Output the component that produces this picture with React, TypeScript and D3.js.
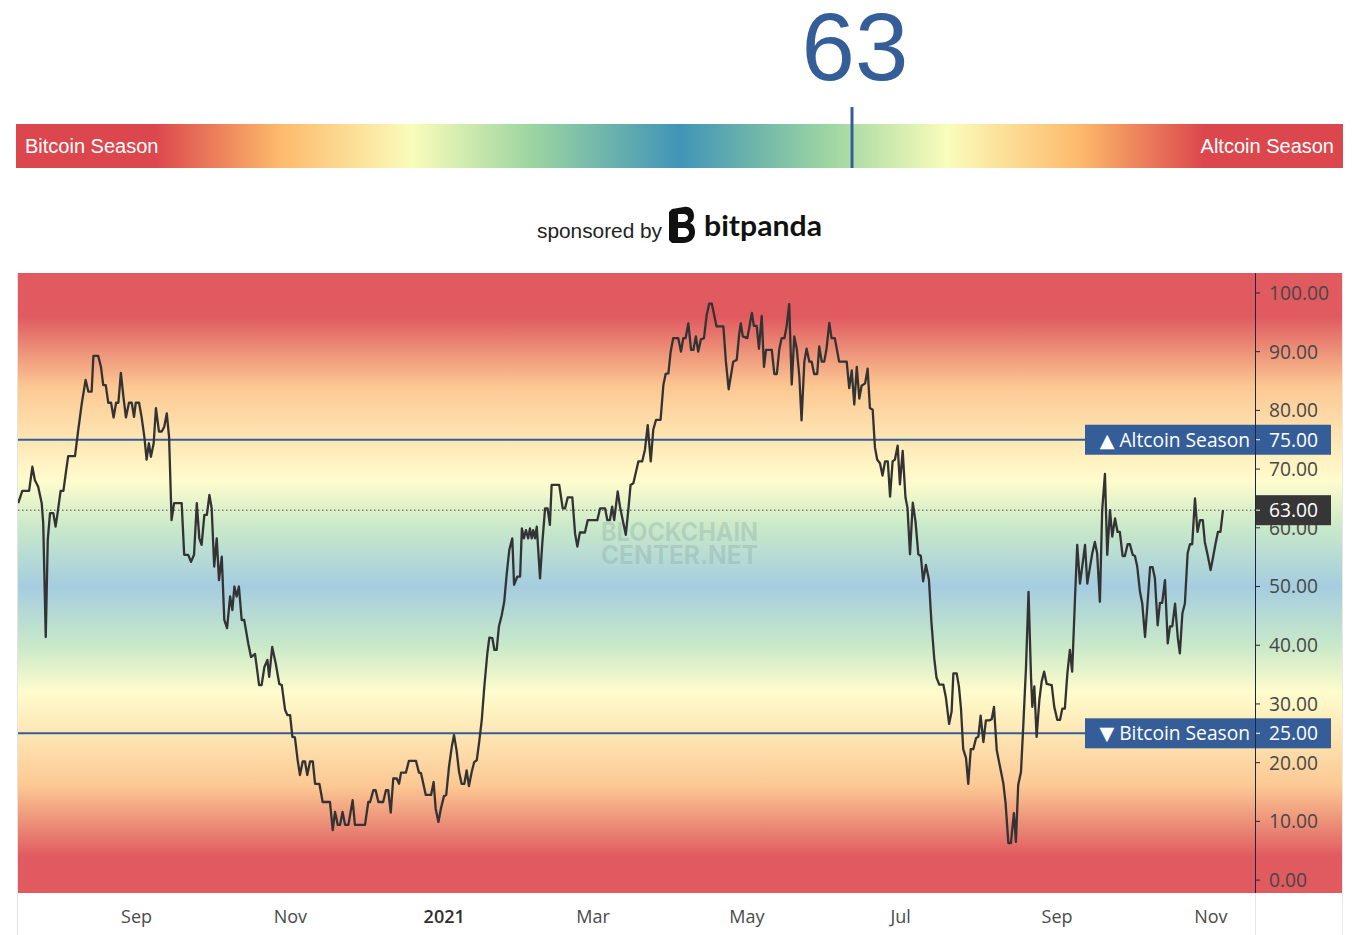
import React from "react";
import * as d3 from "d3";

// ---------- data ----------
const START_DATE = "2020-07-16";
const END_DATE = "2021-11-18T12:00";
const CURRENT_VALUE = 63;
const ALTCOIN_THRESHOLD = 75;
const BITCOIN_THRESHOLD = 25;

const yTickValues = [0, 10, 20, 30, 40, 50, 60, 70, 80, 90, 100];
const xTickDates = ["2020-09-01", "2020-11-01", "2021-01-01", "2021-03-01", "2021-05-01", "2021-07-01", "2021-09-01", "2021-11-01"];
const xTickLabels = ["Sep", "Nov", "2021", "Mar", "May", "Jul", "Sep", "Nov"];

// days after START_DATE
const dayOffsets = [
  0.1, 1.7, 4.4, 5.7, 6.7, 8.0, 9.4, 10.0, 11.0, 11.8, 12.7, 14.0, 14.9, 15.7, 16.9, 18.0, 19.3, 19.9, 22.6, 23.9,
  25.3, 26.8, 27.9, 29.2, 29.9, 31.8, 32.9, 33.8, 34.8, 35.8, 36.9, 37.9, 38.9, 39.8, 40.8, 41.8, 42.8, 44.0, 45.1, 46.0,
  46.7, 48.0, 49.0, 50.1, 51.0, 51.9, 52.7, 53.8, 54.7, 55.9, 57.0, 58.0, 59.0, 59.9, 60.9, 61.9, 64.9, 65.9, 67.5, 68.6,
  69.8, 70.9, 71.9, 72.8, 73.9, 74.9, 75.9, 76.8, 77.8, 78.8, 79.7, 80.8, 81.8, 82.9, 84.1, 85.0, 85.8, 86.7, 87.6, 88.7,
  89.7, 91.3, 92.4, 94.0, 95.6, 96.6, 97.7, 98.9, 99.6, 100.8, 102.2, 103.6, 104.6, 105.9, 106.8, 107.9, 108.8, 109.8, 110.9, 111.8,
  112.9, 113.8, 114.7, 115.8, 116.9, 117.8, 119.5, 120.8, 123.7, 124.8, 125.7, 126.8, 127.7, 128.7, 129.7, 131.0, 132.7, 133.6, 137.6, 138.9,
  139.6, 140.9, 141.8, 142.9, 144.8, 145.9, 146.8, 147.8, 148.8, 150.2, 151.1, 151.9, 153.8, 155.0, 157.8, 159.0, 159.8, 161.7, 163.8, 164.8,
  165.6, 166.7, 167.7, 168.9, 169.8, 170.9, 172.0, 172.9, 173.9, 174.9, 175.9, 177.0, 177.9, 178.8, 179.9, 180.9, 181.9, 182.8, 183.9, 184.9,
  186.1, 186.9, 188.1, 188.9, 189.8, 190.7, 191.8, 192.8, 193.8, 194.8, 196.0, 196.7, 198.0, 199.1, 199.8, 200.6, 201.4, 202.3, 203.0, 203.7,
  204.3, 205.0, 205.7, 207.0, 207.9, 209.0, 210.0, 210.9, 211.6, 214.6, 216.0, 216.9, 218.0, 219.8, 220.9, 221.8, 222.8, 224.8, 225.9, 229.7,
  230.8, 232.8, 233.7, 234.7, 235.6, 236.4, 237.8, 238.7, 239.8, 241.0, 242.0, 242.9, 244.0, 246.0, 247.5, 248.6, 249.7, 250.9, 251.9, 253.0,
  254.8, 255.9, 256.8, 257.9, 258.8, 259.8, 261.8, 262.9, 263.8, 264.7, 265.8, 266.9, 267.8, 268.8, 269.7, 270.8, 272.0, 273.1, 274.1, 275.1,
  277.0, 279.7, 280.7, 281.8, 283.6, 285.0, 286.0, 286.6, 287.4, 289.2, 291.0, 291.8, 292.9, 293.8, 294.9, 295.8, 296.6, 298.9, 299.9, 300.9,
  301.9, 302.8, 303.9, 304.8, 305.8, 306.8, 307.8, 308.8, 309.8, 310.7, 311.8, 312.7, 313.8, 314.7, 315.7, 316.9, 317.7, 318.7, 319.7, 320.6,
  321.7, 322.6, 323.9, 325.6, 328.6, 329.6, 330.6, 331.6, 332.6, 333.6, 334.5, 335.9, 336.9, 337.8, 338.9, 339.8, 340.7, 341.8, 342.8, 343.8,
  344.9, 345.8, 346.8, 347.7, 348.8, 349.7, 350.8, 351.9, 352.7, 353.7, 354.8, 355.9, 357.0, 358.0, 358.9, 360.0, 361.2, 362.2, 363.3, 364.2,
  365.3, 366.9, 367.9, 369.2, 370.2, 370.9, 372.2, 373.1, 373.9, 374.8, 375.9, 376.8, 377.8, 378.8, 379.9, 380.8, 381.7, 382.8, 383.8, 385.1,
  386.1, 387.0, 388.1, 389.4, 390.7, 391.6, 392.7, 393.7, 394.9, 395.7, 396.6, 397.7, 398.6, 399.7, 400.7, 401.7, 402.2, 403.0, 403.9, 405.0,
  405.9, 406.9, 407.9, 409.9, 410.9, 412.1, 413.2, 414.1, 415.1, 416.1, 417.1, 418.0, 419.1, 420.0, 421.1, 422.0, 423.1, 424.0, 425.1, 426.0,
  427.0, 427.9, 429.0, 429.9, 431.0, 431.9, 433.0, 433.9, 435.0, 436.0, 436.9, 438.0, 438.9, 440.0, 440.9, 442.0, 442.9, 443.8, 444.9, 445.8,
  446.9, 447.8, 448.9, 449.9, 450.8, 451.9, 452.8, 453.7, 454.8, 455.9, 456.8, 457.7, 458.8, 459.9, 460.7, 461.7, 462.7, 463.8, 464.7, 465.6,
  466.7, 467.7, 468.7, 469.8, 470.6, 471.7, 472.9, 473.8, 474.9, 475.8, 476.8, 477.8,
];

const indexValues = [
  64.2, 66.3, 66.3, 70.4, 68.1, 67, 64.2, 60.8, 41.4, 57.9, 62.5, 62.5, 60.2, 62.5, 66.3, 66.3, 70.4, 72.2, 72.2, 76.7,
  81.2, 85.2, 83.2, 83.2, 89.3, 89.3, 87.4, 84.3, 84.3, 81.3, 81.3, 78.8, 81.3, 81.3, 86.4, 82.3, 78.8, 81.3, 81.3, 78.9,
  81.3, 81.3, 78.9, 75.5, 71.6, 74.4, 72.1, 74.4, 80.4, 76.4, 76.4, 77.2, 79.5, 75.5, 61.3, 64.2, 64.2, 55.4, 55.4, 54.2,
  55.4, 64.2, 58.2, 57.1, 62.2, 62.2, 65.6, 63.3, 53.4, 58.2, 51.1, 55.1, 44.3, 42.9, 48.3, 46, 50, 48.3, 50, 44.3,
  44.3, 40.3, 38, 38.5, 33.2, 33.2, 36.3, 37.5, 34.6, 39.7, 36.9, 33.4, 33.2, 29, 28.1, 28.1, 24.4, 24.3, 20.4, 17.9,
  20.2, 20.2, 17.9, 20.2, 20.2, 16.4, 16.4, 13.3, 13.3, 8.5, 11.6, 9.4, 9.4, 11.6, 9.4, 9.4, 13.6, 9.4, 9.4, 13.3,
  13.3, 15.3, 15.3, 13.3, 13.3, 15.3, 15.3, 11.5, 17.3, 17.3, 16.4, 18.3, 18.3, 20.3, 20.3, 18.3, 18.2, 14.5, 14.5, 16.7,
  12.2, 9.9, 12.2, 14.3, 14.5, 19.3, 22.7, 24.7, 22.1, 18.4, 16.4, 16.4, 18.7, 16, 18.4, 20.1, 20.4, 23.3, 27.3, 32.9,
  38.6, 41.3, 41.2, 39.2, 39.2, 43.2, 45.1, 47.4, 52.2, 56.2, 58.2, 50.3, 51.7, 51.7, 59.9, 58.2, 59.6, 58.2, 59.9, 58.2,
  59.6, 58.2, 60.2, 51.4, 57.4, 63.3, 63.3, 60.5, 67.3, 67.3, 63.3, 63.3, 65.2, 65.2, 59, 56.8, 59.2, 59.2, 61.3, 61.3,
  63.3, 63.3, 61.3, 61.3, 63.6, 61.3, 66.2, 63.6, 61.3, 58.8, 63, 67.3, 67.6, 71.3, 71.3, 73.3, 77.5, 71.3, 76.7, 78.4,
  78.4, 84.3, 86.2, 86.3, 90, 92.3, 92.3, 90, 92.3, 92.3, 94.8, 90.3, 90.3, 92.6, 90, 92.1, 92.3, 96.3, 98.2, 98.2,
  94.3, 94.3, 88.3, 83.6, 88.3, 88.6, 93.1, 94.8, 92.6, 92.3, 96.6, 94.4, 94.4, 90.5, 96.1, 87.4, 90.3, 90.3, 86.2, 86.2,
  90.5, 92.3, 92.3, 94.4, 98.1, 84.4, 92.6, 90.5, 85.9, 78.3, 88.3, 90.5, 88.3, 88.3, 86.2, 86.2, 90.9, 88.3, 88.3, 90.5,
  94.9, 92.3, 92.3, 88.3, 88.3, 83.8, 86.8, 81, 87.4, 82, 84.2, 84.6, 87.1, 80.4, 80.1, 73.7, 71.6, 71, 68.9, 71.3,
  71.3, 65.3, 71.3, 71.6, 74, 67.4, 73.1, 65.2, 63.4, 55.5, 64.3, 61, 55.5, 55.2, 50.9, 53.7, 51.2, 43.9, 37.8, 34.5,
  33.3, 33.3, 31.2, 26.6, 28.7, 35.2, 35.2, 33, 29.3, 22.3, 20.8, 16.4, 22.3, 22.3, 24.2, 24.4, 28, 23.5, 27.2, 27.2,
  27.4, 29.5, 22.1, 19.3, 16.5, 13.1, 6.3, 6.3, 11.4, 6.5, 16.2, 18.4, 26.1, 36.3, 49.1, 34.4, 29.5, 33, 24.4, 30.7,
  33.8, 35.5, 33.4, 33.2, 29.5, 27.3, 27.3, 29.2, 29.2, 35.2, 39.2, 35.5, 47.7, 57.1, 50.5, 53.4, 57.1, 50.5, 53.4, 55.7,
  57.6, 55.7, 47.4, 63, 69.2, 55.4, 63, 58.5, 61.6, 59.3, 59.3, 55.2, 55.2, 57.2, 57.2, 55.4, 55.2, 53.4, 49.1, 47.1,
  41.4, 46.6, 53.3, 53.3, 51.4, 43.4, 47.2, 47.2, 51.1, 40.3, 43.2, 43.2, 47.1, 41.2, 38.6, 45.4, 47.1, 55.7, 57.2, 57.2,
  65, 59.3, 61.3, 61.3, 57.6, 55.4, 52.8, 54.8, 57.4, 59.3, 59.3, 63,
];

// colour stops (value -> colour) for the chart background
const bgStopValues = [100, 96, 90, 84, 77, 68, 60, 50, 40, 32, 23, 16, 10, 4, 0];
const bgStopColors = ["#e05a60", "#e05a60", "#ed9279", "#fcc893", "#fde0ad", "#fffccd", "#c8e9c9", "#a5cde0", "#c8e9c9", "#fffccd", "#fde0ad", "#fcc893", "#ed9279", "#e05a60", "#e05a60"];
// colour stops for the top season bar
const barStopOffsets = [0, 0.104, 0.198, 0.298, 0.388, 0.5, 0.612, 0.702, 0.802, 0.896, 1];
const barStopColors = ["#dc464d", "#dc464d", "#fdb96a", "#fafcba", "#9dd5a1", "#4094b7", "#9dd5a1", "#fafcba", "#fdb96a", "#dc464d", "#dc464d"];

// ---------- layout ----------
const W = 1358;
const H = 935;
const plot = { left: 18, right: 1255, top: 273, bottom: 893 };
const axisRight = 1342;
const bar = { left: 16, right: 1343, top: 124, bottom: 168 };
const AXIS_FONT = "'Open Sans', 'DejaVu Sans', sans-serif";
const ARIAL = "'Liberation Sans', Arial, sans-serif";
const BLUE = "#355e99";

export default function App() {
  const parseDay = d3.timeParse("%Y-%m-%d");
  const start = parseDay(START_DATE) as Date;
  const end = d3.timeParse("%Y-%m-%dT%H:%M")(END_DATE) as Date;

  const x = d3.scaleTime().domain([start, end]).range([plot.left, plot.right]);
  const y = d3.scaleLinear().domain([-2.2, 103.4]).range([plot.bottom, plot.top]);
  const barX = d3.scaleLinear().domain([0, 100]).range([bar.left, bar.right]);

  const points = dayOffsets.map((d, i) => ({
    date: new Date(start.getTime() + d * 864e5),
    value: indexValues[i],
  }));
  const linePath = d3
    .line<{ date: Date; value: number }>()
    .x((d) => x(d.date))
    .y((d) => y(d.value))(points) as string;

  const fmt = d3.format(".2f");
  const markerX = barX(CURRENT_VALUE);

  return (
    <svg
      width={W}
      height={H}
      style={{ position: "absolute", left: 0, top: 0, display: "block", background: "#fff" }}
    >
      <defs>
        <linearGradient id="barGrad" x1={bar.left} x2={bar.right} y1={0} y2={0} gradientUnits="userSpaceOnUse">
          {barStopOffsets.map((o, i) => (
            <stop key={i} offset={o} stopColor={barStopColors[i]} />
          ))}
        </linearGradient>
        <linearGradient id="bgGrad" x1={0} x2={0} y1={y(100)} y2={y(0)} gradientUnits="userSpaceOnUse">
          {bgStopValues.map((v, i) => (
            <stop key={i} offset={(100 - v) / 100} stopColor={bgStopColors[i]} />
          ))}
        </linearGradient>
        <clipPath id="plotClip">
          <rect x={plot.left} y={plot.top} width={plot.right - plot.left} height={plot.bottom - plot.top} />
        </clipPath>
      </defs>

      {/* ---------- header ---------- */}
      <text x={markerX + 3} y={80} textAnchor="middle" fontFamily={ARIAL} fontSize={96} fill={BLUE}>
        {CURRENT_VALUE}
      </text>
      <rect x={bar.left} y={bar.top} width={bar.right - bar.left} height={bar.bottom - bar.top} fill="url(#barGrad)" />
      <text x={25} y={153} fontFamily={ARIAL} fontSize={20} fill="#fff">Bitcoin Season</text>
      <text x={1334} y={153} textAnchor="end" fontFamily={ARIAL} fontSize={20} fill="#fff">Altcoin Season</text>
      <line x1={markerX} x2={markerX} y1={107} y2={bar.bottom} stroke={BLUE} strokeWidth={3} />

      {/* sponsored */}
      <text x={537} y={238} fontFamily={ARIAL} fontSize={20.5} fill="#222" textLength={125} lengthAdjust="spacingAndGlyphs">sponsored by</text>
      <g transform="translate(669,207)">
        <path
          d="M3,2 L15,0 C22,-1 25,4 25,9 C25,13 23,15 21,16 C24,17 26,20 26,25 C26,32 21,36 14,36 L3,36 Z M9,7 L9,15 L14,15 C17,15 19,13 19,11 C19,8 17,7 14,7 Z M9,21 L9,30 L15,30 C18,30 20,28 20,25.5 C20,23 18,21 15,21 Z"
          fill="#111"
          fillRule="evenodd"
        />
        <path d="M0,5 L3,2 L3,36 L0,33 Z" fill="#111" />
      </g>
      <text x={704} y={236} fontFamily="'Lato', 'Noto Sans', sans-serif" fontWeight={700} fontSize={28} fill="#111" textLength={118} lengthAdjust="spacingAndGlyphs">
        bitpanda
      </text>

      {/* ---------- chart background ---------- */}
      <rect x={plot.left} y={plot.top} width={axisRight - plot.left} height={plot.bottom - plot.top} fill="url(#bgGrad)" />
      <line x1={plot.left - 0.5} x2={plot.left - 0.5} y1={plot.top} y2={H} stroke="#e3e3e3" />
      <line x1={axisRight + 0.5} x2={axisRight + 0.5} y1={plot.top} y2={H} stroke="#e8e8e8" />
      <line x1={plot.right + 0.5} x2={plot.right + 0.5} y1={plot.bottom} y2={H} stroke="#e8e8e8" />

      {/* watermark */}
      <g fill="#7f9a98" fillOpacity={0.28} fontFamily="'Inter', 'Noto Sans', sans-serif" fontWeight={700} fontSize={25}>
        <text x={601} y={541} textLength={157} lengthAdjust="spacingAndGlyphs">BLOCKCHAIN</text>
        <text x={601} y={564} textLength={157} lengthAdjust="spacingAndGlyphs">CENTER.NET</text>
      </g>

      {/* threshold lines */}
      {[ALTCOIN_THRESHOLD, BITCOIN_THRESHOLD].map((v) => (
        <line key={v} x1={plot.left} x2={plot.right} y1={y(v)} y2={y(v)} stroke={BLUE} strokeWidth={2} />
      ))}
      {/* current value dotted line */}
      <line x1={plot.left} x2={plot.right} y1={y(CURRENT_VALUE)} y2={y(CURRENT_VALUE)} stroke="#4a4a4a" strokeWidth={1} strokeDasharray="1.5,2.5" />

      {/* series */}
      <path d={linePath} fill="none" stroke="#333" strokeWidth={2.3} strokeLinejoin="round" clipPath="url(#plotClip)" />

      {/* ---------- y axis ---------- */}
      <line x1={plot.right + 0.5} x2={plot.right + 0.5} y1={plot.top} y2={plot.bottom} stroke="#1c2640" strokeWidth={1} />
      {yTickValues.map((v) => (
        <g key={v}>
          <line x1={plot.right + 1} x2={plot.right + 5} y1={y(v)} y2={y(v)} stroke="#1c2640" />
          <text x={1269} y={y(v)} dy="0.36em" fontFamily={AXIS_FONT} fontSize={19.2} fill="#474747">
            {fmt(v)}
          </text>
        </g>
      ))}

      {/* threshold labels */}
      {[
        { v: ALTCOIN_THRESHOLD, label: "▲ Altcoin Season" },
        { v: BITCOIN_THRESHOLD, label: "▼ Bitcoin Season" },
      ].map((d) => (
        <g key={d.v}>
          <rect x={1085} y={y(d.v) - 15} width={plot.right - 1085} height={30} fill={BLUE} />
          <text x={1250} y={y(d.v)} dy="0.36em" textAnchor="end" fontFamily={AXIS_FONT} fontWeight={500} fontSize={19.2} fill="#fff">
            {d.label}
          </text>
          <rect x={plot.right + 1} y={y(d.v) - 15} width={1331 - plot.right - 1} height={30} fill={BLUE} />
          <line x1={plot.right + 1} x2={plot.right + 5} y1={y(d.v)} y2={y(d.v)} stroke="#fff" />
          <text x={1269} y={y(d.v)} dy="0.36em" fontFamily={AXIS_FONT} fontWeight={500} fontSize={19.2} fill="#fff">
            {fmt(d.v)}
          </text>
        </g>
      ))}
      <rect x={plot.right + 1} y={y(CURRENT_VALUE) - 15} width={1331 - plot.right - 1} height={30} fill="#363636" />
      <line x1={plot.right + 1} x2={plot.right + 5} y1={y(CURRENT_VALUE)} y2={y(CURRENT_VALUE)} stroke="#fff" />
      <text x={1269} y={y(CURRENT_VALUE)} dy="0.36em" fontFamily={AXIS_FONT} fontWeight={500} fontSize={19.2} fill="#fff">
        {fmt(CURRENT_VALUE)}
      </text>

      {/* ---------- x axis ---------- */}
      {xTickDates.map((s, i) => (
        <text
          key={i}
          x={x(parseDay(s) as Date)}
          y={923}
          textAnchor="middle"
          fontFamily={AXIS_FONT}
          fontSize={18}
          fontWeight={xTickLabels[i] === "2021" ? 600 : 400}
          fill={xTickLabels[i] === "2021" ? "#2e2e2e" : "#4a4a4a"}
        >
          {xTickLabels[i]}
        </text>
      ))}
    </svg>
  );
}
